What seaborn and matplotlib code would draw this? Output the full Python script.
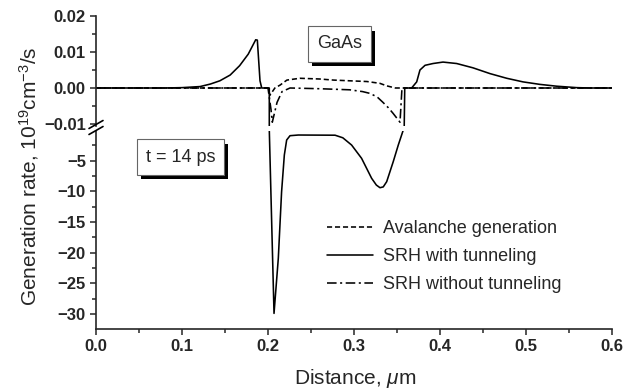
import numpy as np
import pandas as pd
import seaborn as sns
import matplotlib
matplotlib.use("Agg")
import matplotlib.pyplot as plt
from matplotlib import patheffects
from matplotlib.ticker import FixedLocator, MultipleLocator, FuncFormatter
from matplotlib.lines import Line2D

# ---- data: generation rate profiles (10^19 cm^-3/s) vs distance (um) ----
x_srh_tun = [0.0, 0.08, 0.10, 0.121, 0.133, 0.144, 0.156, 0.167, 0.177, 0.1857,
             0.1876, 0.1907, 0.1927, 0.2, 0.2015, 0.207, 0.212, 0.2158, 0.219,
             0.2217, 0.2256, 0.2352, 0.278, 0.287, 0.2972, 0.3088, 0.3205,
             0.326, 0.3302, 0.334, 0.338, 0.3456, 0.3515, 0.3573, 0.359, 0.367,
             0.3729, 0.3767, 0.3826, 0.3919, 0.4035, 0.4194, 0.4384, 0.4581,
             0.4776, 0.4965, 0.5163, 0.5357, 0.559, 0.5744, 0.6]
y_srh_tun = [0.0, 0.0, 0.0001, 0.0004, 0.0011, 0.002, 0.0036, 0.0062, 0.0094, 0.0134,
             0.0133, 0.0020, 0.0, 0.0, 0.0, -29.9, -20.9, -10.1, -4.1,
             -1.66, -0.96, -0.85, -0.88, -1.3, -2.48, -4.64, -7.9,
             -9.0, -9.43, -9.3, -8.45, -5.2, -2.48, -0.03, 0.0, 0.0,
             0.0017, 0.005, 0.0063, 0.0068, 0.0072, 0.0068, 0.0056, 0.004,
             0.0027, 0.0017, 0.001, 0.0005, 0.0001, 0.0, 0.0]

x_aval = [0.0, 0.2, 0.2023, 0.208, 0.214, 0.222, 0.237, 0.26, 0.276, 0.295,
          0.315, 0.33, 0.338, 0.348, 0.6]
y_aval = [0.0, 0.0, -0.002, 0.0, 0.0008, 0.0022, 0.0027, 0.0025, 0.0022, 0.002,
          0.0018, 0.0013, 0.0006, 0.0, 0.0]

x_srh_notun = [0.0, 0.2, 0.2035, 0.205, 0.2105, 0.2163, 0.2256, 0.26, 0.295,
               0.31, 0.3186, 0.327, 0.3337, 0.34, 0.3453, 0.3535, 0.3558, 0.6]
y_srh_notun = [0.0, 0.0, -0.006, -0.0095, -0.004, -0.001, 0.0, -0.0002, -0.0005,
               -0.001, -0.0015, -0.0025, -0.004, -0.0055, -0.007, -0.0095, 0.0, 0.0]

labels = ["Avalanche generation", "SRH with tunneling", "SRH without tunneling"]
upper_ticks = [0.02, 0.01, 0.0, -0.01]
lower_ticks = [-5, -10, -15, -20, -25, -30]
x_ticks = [0.0, 0.1, 0.2, 0.3, 0.4, 0.5, 0.6]

# ---- style ----
sns.set_style("ticks")
plt.rcParams["font.family"] = ["Liberation Sans", "DejaVu Sans"]
plt.rcParams["mathtext.fontset"] = "custom"
plt.rcParams["mathtext.rm"] = "Liberation Sans"
plt.rcParams["mathtext.it"] = "Liberation Sans:italic"
plt.rcParams["mathtext.bf"] = "Liberation Sans:bold"

W, H = 636, 392
fig = plt.figure(figsize=(W / 100, H / 100), dpi=100)


def fx(px):
    return px / W


def fy(py):
    return 1 - py / H


left, right = 96, 612
ax_up = fig.add_axes([fx(left), fy(126), fx(right - left), (126 - 16) / H])
ax_lo = fig.add_axes([fx(left), fy(329), fx(right - left), (329 - 131) / H])

series = [
    (x_aval, y_aval, (0, (3.2, 1.8)), labels[0]),
    (x_srh_tun, y_srh_tun, "-", labels[1]),
    (x_srh_notun, y_srh_notun, (0, (6.0, 2.2, 1.3, 2.2)), labels[2]),
]

for ax in (ax_up, ax_lo):
    for xs, ys, ls, lab in series:
        df = pd.DataFrame({"x": xs, "y": ys})
        sns.lineplot(data=df, x="x", y="y", ax=ax, estimator=None, sort=False,
                     color="black", linewidth=1.15, linestyle=ls, label=lab)

for ax in (ax_up, ax_lo):
    ax.set_xlim(0.0, 0.6)
    ax.set_xlabel("")
    ax.set_ylabel("")
    ax.spines["top"].set_visible(False)
    ax.spines["right"].set_visible(False)
    ax.spines["left"].set_linewidth(1.2)
    ax.spines["bottom"].set_linewidth(1.2)
    ax.tick_params(axis="both", which="major", direction="out", length=4.3,
                   width=1.1, labelsize=12, pad=3)
    ax.tick_params(axis="both", which="minor", direction="out", length=2.6,
                   width=1.1)

minus = lambda s: s.replace("-", "\u2212")

# upper segment
ax_up.set_ylim(-0.010556, 0.02)
ax_up.yaxis.set_major_locator(FixedLocator(upper_ticks))
ax_up.yaxis.set_minor_locator(MultipleLocator(0.005))
ax_up.yaxis.set_major_formatter(FuncFormatter(
    lambda v, p: minus("%.2f" % (0.0 if abs(v) < 1e-9 else v))))
ax_up.spines["bottom"].set_visible(False)
ax_up.tick_params(axis="x", which="both", bottom=False, labelbottom=False)
ax_up.get_legend().remove()

# lower segment
ax_lo.set_ylim(-32.44, -0.195)
ax_lo.yaxis.set_major_locator(FixedLocator(lower_ticks))
ax_lo.yaxis.set_minor_locator(MultipleLocator(2.5))
ax_lo.yaxis.set_major_formatter(FuncFormatter(lambda v, p: minus("%d" % v)))
ax_lo.xaxis.set_major_locator(FixedLocator(x_ticks))
ax_lo.xaxis.set_minor_locator(MultipleLocator(0.05))
ax_lo.xaxis.set_major_formatter(FuncFormatter(lambda v, p: "%.1f" % v))

for ax in (ax_up, ax_lo):
    for lab in ax.get_yticklabels() + ax.get_xticklabels():
        lab.set_fontweight("bold")
        lab.set_fontsize(12)

leg = ax_lo.legend(loc="upper left", bbox_to_anchor=(fx(327), fy(220)),
                   bbox_transform=fig.transFigure, frameon=False, fontsize=13,
                   handlelength=2.55, handletextpad=0.55, labelspacing=0.62,
                   borderpad=0, borderaxespad=0)

# axis break marks
for yc in (124.5, 130.5):
    fig.add_artist(Line2D([fx(89), fx(103)], [fy(yc + 4), fy(yc - 4)],
                          color="black", lw=1.2, transform=fig.transFigure))

# axis titles
fig.text(fx(29), fy(176), "Generation rate, 10$^{19}$cm$^{-3}$/s",
         rotation=90, ha="center", va="center", fontsize=15)
fig.text(fx(355), fy(378), "Distance, $\\mu$m", ha="center", va="center",
         fontsize=15)

# boxed annotations with drop shadow
shadow = [patheffects.withSimplePatchShadow(offset=(3, -3.5),
                                            shadow_rgbFace="black", alpha=1.0)]
for txt, (cx, cy) in [("GaAs", (339.5, 44)), ("t = 14 ps", (180.5, 157))]:
    t = fig.text(fx(cx), fy(cy), txt, ha="center", va="center", fontsize=13,
                 bbox=dict(boxstyle="square,pad=0.5", facecolor="white",
                           edgecolor="#666666", linewidth=0.8))
    t.get_bbox_patch().set_path_effects(shadow)

fig.savefig("out.png", dpi=100)
